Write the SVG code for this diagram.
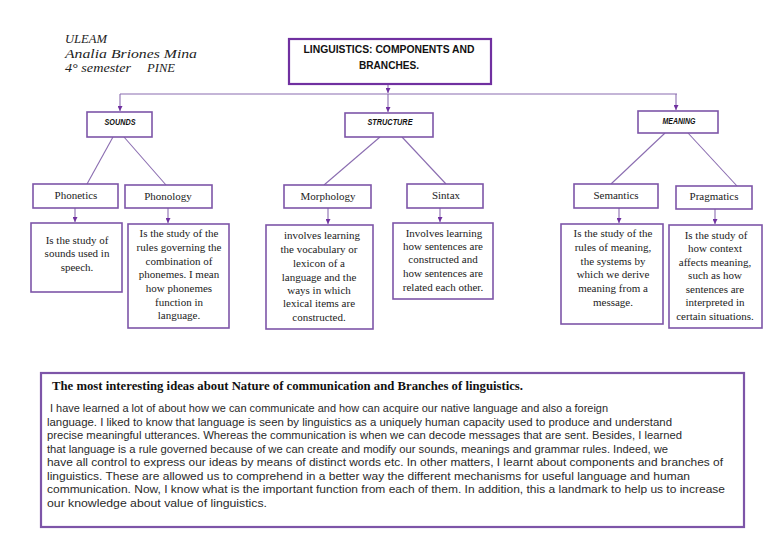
<svg xmlns="http://www.w3.org/2000/svg" width="768" height="543" viewBox="0 0 768 543">
<defs>
<marker id="ah" viewBox="0 0 6 6" refX="6" refY="3" markerWidth="5" markerHeight="5" markerUnits="userSpaceOnUse" orient="auto"><path d="M0,0 L6,3 L0,6 z" fill="#7030a0"/></marker>
<style>
.box{fill:#ffffff;stroke:#7d55a8;stroke-width:1.6}
.tbox{fill:#ffffff;stroke:#7030a0;stroke-width:2.2}
.conn{fill:none;stroke:#8a6cb0;stroke-width:1.1}
.arr{fill:none;stroke:#8a6cb0;stroke-width:1.1;marker-end:url(#ah)}
.lbl{font-family:"Liberation Serif",serif;font-size:11px;fill:#222;text-anchor:middle}
.def{font-family:"Liberation Serif",serif;font-size:11px;fill:#222;text-anchor:middle}
.cat{font-family:"Liberation Sans",sans-serif;font-size:8.5px;font-weight:bold;font-style:italic;fill:#111;text-anchor:middle}
.ttl{font-family:"Liberation Sans",sans-serif;font-size:11px;font-weight:bold;fill:#111;text-anchor:middle}
.hand{font-family:"Liberation Serif",serif;font-size:13.5px;font-style:italic;fill:#222}
.para{font-family:"Liberation Sans",sans-serif;font-size:11px;fill:#2a2a2a}
.head{font-family:"Liberation Serif",serif;font-size:13px;font-weight:bold;fill:#111}
</style>
</defs>
<rect width="768" height="543" fill="#ffffff"/>

<g id="header">
<text class="hand" x="65" y="43" textLength="42" lengthAdjust="spacingAndGlyphs">ULEAM</text>
<text class="hand" x="65" y="58" textLength="132" lengthAdjust="spacingAndGlyphs">Analia Briones Mina</text>
<text class="hand" x="65" y="72" textLength="66" lengthAdjust="spacingAndGlyphs">4° semester</text>
<text class="hand" x="147" y="72" textLength="28" lengthAdjust="spacingAndGlyphs">PINE</text>
</g>

<g id="connectors">
<line class="arr" x1="388" y1="84" x2="388" y2="93"/>
<line class="conn" x1="120" y1="94" x2="677" y2="94"/>
<line class="arr" x1="120" y1="94" x2="120" y2="111"/>
<line class="arr" x1="388" y1="94" x2="388" y2="112"/>
<line class="arr" x1="676" y1="94" x2="676" y2="110"/>
<line class="conn" x1="113" y1="137" x2="87" y2="184"/>
<line class="conn" x1="124" y1="137" x2="166" y2="185"/>
<line class="conn" x1="380" y1="137" x2="324" y2="185"/>
<line class="conn" x1="402" y1="137" x2="446" y2="184"/>
<line class="conn" x1="665" y1="133" x2="611" y2="184"/>
<line class="conn" x1="688" y1="133" x2="737" y2="186"/>
<line class="arr" x1="75" y1="208" x2="75" y2="222"/>
<line class="arr" x1="168" y1="208" x2="168" y2="223"/>
<line class="arr" x1="328" y1="208" x2="328" y2="224"/>
<line class="arr" x1="440" y1="208" x2="440" y2="222"/>
<line class="arr" x1="619" y1="208" x2="619" y2="223"/>
<line class="arr" x1="715" y1="209" x2="715" y2="224"/>
</g>

<g id="title">
<rect class="tbox" x="289" y="39" width="202" height="45"/>
<text class="ttl" x="389" y="53" textLength="171" lengthAdjust="spacingAndGlyphs">LINGUISTICS: COMPONENTS AND</text>
<text class="ttl" x="389" y="69" textLength="60" lengthAdjust="spacingAndGlyphs">BRANCHES.</text>
</g>

<g id="sounds">
<rect class="box" x="87" y="112" width="65" height="25"/>
<text class="cat" x="120" y="125" textLength="31" lengthAdjust="spacingAndGlyphs">SOUNDS</text>
</g>
<g id="structure">
<rect class="box" x="345" y="113" width="88" height="24"/>
<text class="cat" x="390" y="125" textLength="45" lengthAdjust="spacingAndGlyphs">STRUCTURE</text>
</g>
<g id="meaning">
<rect class="box" x="638" y="111" width="80" height="22"/>
<text class="cat" x="679" y="124" textLength="33" lengthAdjust="spacingAndGlyphs">MEANING</text>
</g>

<g id="phonetics">
<rect class="box" x="33" y="184" width="85" height="24"/>
<text class="lbl" x="76" y="199">Phonetics</text>
</g>
<g id="phonology">
<rect class="box" x="125" y="185" width="87" height="23"/>
<text class="lbl" x="168" y="200">Phonology</text>
</g>
<g id="morphology">
<rect class="box" x="284" y="185" width="87" height="23"/>
<text class="lbl" x="328" y="200">Morphology</text>
</g>
<g id="sintax">
<rect class="box" x="407" y="184" width="76" height="24"/>
<text class="lbl" x="446" y="199">Sintax</text>
</g>
<g id="semantics">
<rect class="box" x="574" y="184" width="84" height="24"/>
<text class="lbl" x="616" y="199">Semantics</text>
</g>
<g id="pragmatics">
<rect class="box" x="676" y="186" width="76" height="23"/>
<text class="lbl" x="714" y="200">Pragmatics</text>
</g>

<g id="def-phonetics">
<rect class="box" x="31" y="223" width="91" height="69"/>
<text class="def" x="77" y="244">Is the study of</text>
<text class="def" x="77" y="257">sounds used in</text>
<text class="def" x="77" y="271">speech.</text>
</g>
<g id="def-phonology">
<rect class="box" x="128" y="224" width="101" height="104"/>
<text class="def" x="179" y="237">Is the study of the</text>
<text class="def" x="179" y="251">rules governing the</text>
<text class="def" x="179" y="265">combination of</text>
<text class="def" x="179" y="278">phonemes. I mean</text>
<text class="def" x="179" y="292">how phonemes</text>
<text class="def" x="179" y="306">function in</text>
<text class="def" x="179" y="319">language.</text>
</g>
<g id="def-morphology">
<rect class="box" x="266" y="225" width="107" height="104"/>
<text class="def" x="322" y="239">involves learning</text>
<text class="def" x="319" y="253">the vocabulary or</text>
<text class="def" x="319" y="267">lexicon of a</text>
<text class="def" x="319" y="281">language and the</text>
<text class="def" x="319" y="294">ways in which</text>
<text class="def" x="319" y="307">lexical items are</text>
<text class="def" x="319" y="321">constructed.</text>
</g>
<g id="def-sintax">
<rect class="box" x="393" y="223" width="100" height="76"/>
<text class="def" x="444" y="237">Involves learning</text>
<text class="def" x="443" y="250">how sentences are</text>
<text class="def" x="443" y="263">constructed and</text>
<text class="def" x="443" y="277">how sentences are</text>
<text class="def" x="443" y="291">related each other.</text>
</g>
<g id="def-semantics">
<rect class="box" x="561" y="224" width="102" height="100"/>
<text class="def" x="613" y="237">Is the study of the</text>
<text class="def" x="613" y="251">rules of meaning,</text>
<text class="def" x="613" y="265">the systems by</text>
<text class="def" x="613" y="278">which we derive</text>
<text class="def" x="613" y="292">meaning from a</text>
<text class="def" x="613" y="306">message.</text>
</g>
<g id="def-pragmatics">
<rect class="box" x="669" y="225" width="93" height="103"/>
<text class="def" x="716" y="239">Is the study of</text>
<text class="def" x="715" y="252">how context</text>
<text class="def" x="715" y="266">affects meaning,</text>
<text class="def" x="715" y="279">such as how</text>
<text class="def" x="715" y="293">sentences are</text>
<text class="def" x="715" y="306">interpreted in</text>
<text class="def" x="715" y="320">certain situations.</text>
</g>

<g id="summary">
<rect x="41" y="373" width="703" height="154" fill="#ffffff" stroke="#7d55a8" stroke-width="2.2"/>
<text class="head" x="52" y="390" textLength="471" lengthAdjust="spacingAndGlyphs">The most interesting ideas about Nature of communication and Branches of linguistics.</text>
<text class="para" x="50" y="412" textLength="558" lengthAdjust="spacingAndGlyphs">I have learned a lot of about how we can communicate and how can acquire our native language and also a foreign</text>
<text class="para" x="47" y="425.5" textLength="625" lengthAdjust="spacingAndGlyphs">language. I liked to know that language is seen by linguistics as a uniquely human capacity used to produce and understand</text>
<text class="para" x="47" y="439" textLength="635" lengthAdjust="spacingAndGlyphs">precise meaningful utterances. Whereas the communication is when we can decode messages that are sent. Besides, I learned</text>
<text class="para" x="47" y="452.5" textLength="621" lengthAdjust="spacingAndGlyphs">that language is a rule governed because of we can create and modify our sounds, meanings and grammar rules. Indeed, we</text>
<text class="para" x="47" y="466" textLength="676" lengthAdjust="spacingAndGlyphs">have all control to express our ideas by means of distinct words etc. In other matters, I learnt about components and branches of</text>
<text class="para" x="47" y="479.5" textLength="643" lengthAdjust="spacingAndGlyphs">linguistics. These are allowed us to comprehend in a better way the different mechanisms for useful language and human</text>
<text class="para" x="47" y="493" textLength="678" lengthAdjust="spacingAndGlyphs">communication. Now, I know what is the important function from each of them. In addition, this a landmark to help us to increase</text>
<text class="para" x="47" y="506.5" textLength="220" lengthAdjust="spacingAndGlyphs">our knowledge about value of linguistics.</text>
</g>
</svg>
